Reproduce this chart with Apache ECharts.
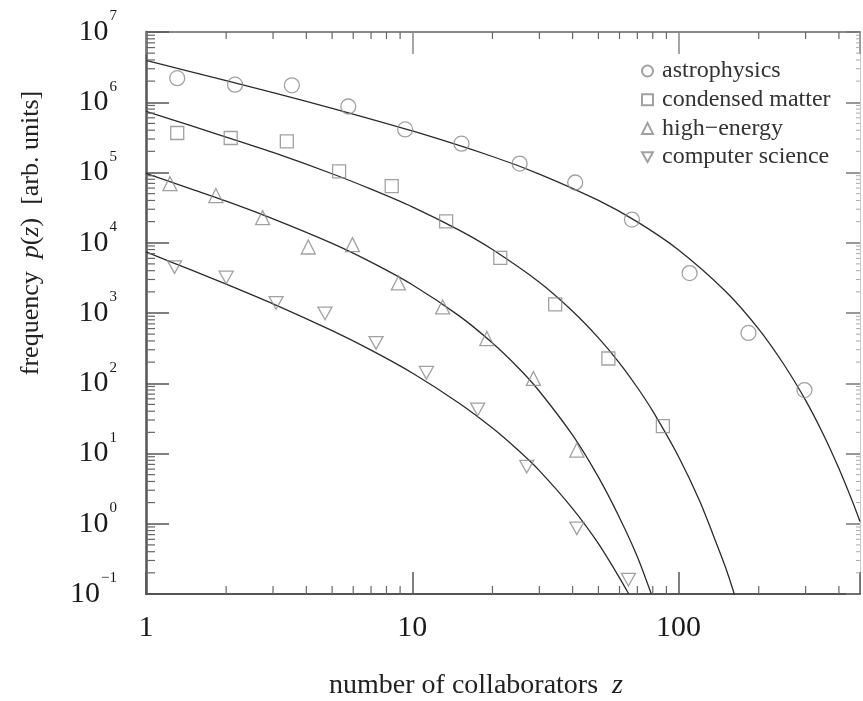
<!DOCTYPE html>
<html><head><meta charset="utf-8">
<script src="https://cdn.jsdelivr.net/npm/echarts@6/dist/echarts.min.js"></script>
<style>html,body{margin:0;padding:0;background:#fff}#c{width:863px;height:701px}</style>
</head><body><div id="c"></div>
<script>
// ---- data ----
const seriesNames = ['astrophysics', 'condensed matter', 'high\u2212energy', 'computer science'];

const astroPoints = [[1.31,2.2e6],[2.16,1.78e6],[3.53,1.74e6],[5.75,8.7e5],[9.4,4.1e5],[15.3,2.57e5],[25.3,1.34e5],[40.9,7.2e4],[66.8,2.14e4],[110,3.7e3],[183,521],[297,80]];
const condPoints  = [[1.31,3.65e5],[2.08,3.1e5],[3.38,2.78e5],[5.31,1.04e5],[8.37,6.4e4],[13.4,2.02e4],[21.4,6.1e3],[34.4,1.33e3],[54.5,225],[87.3,24.5]];
const hePoints    = [[1.23,6.95e4],[1.83,4.7e4],[2.74,2.28e4],[4.07,8.7e3],[5.96,9.4e3],[8.87,2.68e3],[13.0,1.22e3],[19.05,433],[28.5,117],[41.5,11.2]];
const csPoints    = [[1.28,4.5e3],[2.0,3.2e3],[3.08,1.39e3],[4.7,985],[7.31,376],[11.3,141],[17.6,42.4],[26.9,6.5],[41.5,0.86],[64.8,0.16]];

// fitted curves at sample abscissas
const astroCurve = [[1,3.94e6],[2,2.03e6],[3,1.37e6],[5,8.2e5],[10,3.9e5],[20,1.69e5],[30,9.5e4],[50,4.0e4],[70,1.98e4],[100,7.9e3],[150,2.04e3],[200,590],[250,179],[300,57],[350,18.5],[400,6.1],[450,2.06],[480,1.08]];
const condCurve  = [[1,7.4e5],[2,3.2e5],[3,1.93e5],[5,9.6e4],[7,5.8e4],[10,3.25e4],[15,1.51e4],[20,8.0e3],[30,2.74e3],[40,1.06e3],[50,443],[60,194],[70,87],[80,40],[100,9.0],[120,2.1],[140,0.48],[150,0.24],[160,0.115],[166,0.07]];
const heCurve    = [[1,9.7e4],[1.5,5.7e4],[2,3.9e4],[3,2.19e4],[5,9.8e3],[7,5.3e3],[10,2.53e3],[15,910],[20,374],[25,166],[30,77],[40,18.2],[50,4.6],[60,1.22],[70,0.34],[79,0.1]];
const csCurve    = [[1,7.4e3],[1.5,4.0e3],[2,2.58e3],[3,1.35e3],[5,560],[7,296],[10,140],[15,52],[20,23],[25,11.1],[30,5.7],[40,1.64],[50,0.52],[60,0.17],[65,0.1]];

const xTickLabels = [1, 10, 100];
const yTickExponents = [-1, 0, 1, 2, 3, 4, 5, 6, 7];
const xMinorTicks = [2,3,4,5,6,7,8,9,20,30,40,50,60,70,80,90,200,300,400];
const yMinorTicks = [0.2,0.3,0.4,0.5,0.6,0.7,0.8,0.9, 2,3,4,5,6,7,8,9, 20,30,40,50,60,70,80,90,
  200,300,400,500,600,700,800,900, 2e3,3e3,4e3,5e3,6e3,7e3,8e3,9e3, 2e4,3e4,4e4,5e4,6e4,7e4,8e4,9e4,
  2e5,3e5,4e5,5e5,6e5,7e5,8e5,9e5, 2e6,3e6,4e6,5e6,6e6,7e6,8e6,9e6];

// ---- chart ----
const SERIF = 'Liberation Serif';
const markerStyle = {color: 'rgba(0,0,0,0)', borderColor: '#8a8a8a', borderWidth: 1.3};
const downTri = 'path://M0,0L10,0L5,9Z';
const symbols = ['circle', 'rect', 'triangle', downTri];
const sizes = [15, 13, 14, 14];
const pointSets = [astroPoints, condPoints, hePoints, csPoints];
const curveSets = [astroCurve, condCurve, heCurve, csCurve];

const series = [];
curveSets.forEach((c) => {
  series.push({type: 'line', data: c, showSymbol: false, smooth: 0.25, z: 2, clip: true,
    lineStyle: {color: '#2b2b2b', width: 1.3}, silent: true});
});
pointSets.forEach((p, i) => {
  series.push({type: 'scatter', name: seriesNames[i], data: p, symbol: symbols[i],
    symbolSize: sizes[i], symbolKeepAspect: true, itemStyle: markerStyle, z: 3});
});
series.push({type: 'custom', silent: true, z: 4, data: xMinorTicks.map(v => [v, 1]),
  renderItem: (params, api) => {
    const cs = params.coordSys;
    const px = api.coord([api.value(0), 1])[0];
    const b = cs.y + cs.height, t = cs.y;
    const st = {stroke: '#666', lineWidth: 1.2};
    return {type: 'group', children: [
      {type: 'line', shape: {x1: px, y1: b, x2: px, y2: b - 8}, style: st},
      {type: 'line', shape: {x1: px, y1: t, x2: px, y2: t + 7}, style: st}
    ]};
  }});
series.push({type: 'custom', silent: true, z: 4, data: yMinorTicks.map(v => [1, v]),
  renderItem: (params, api) => {
    const cs = params.coordSys;
    const py = api.coord([1, api.value(1)])[1];
    const l = cs.x, r = cs.x + cs.width;
    return {type: 'group', children: [
      {type: 'line', shape: {x1: l, y1: py, x2: l + 9, y2: py}, style: {stroke: '#666', lineWidth: 1.2}},
      {type: 'line', shape: {x1: r, y1: py, x2: r - 4, y2: py}, style: {stroke: '#aaa', lineWidth: 1}}
    ]};
  }});

const isPow10 = v => Math.abs(Math.log10(v) - Math.round(Math.log10(v))) < 1e-6;

const option = {
  animation: false,
  backgroundColor: '#fff',
  grid: {left: 146, right: 3, top: 32, bottom: 107, containLabel: false},
  legend: {
    data: seriesNames, orient: 'vertical', left: 641, top: 59, padding: 0,
    itemGap: 4.7, itemWidth: 11, itemHeight: 11, selectedMode: false,
    textStyle: {fontFamily: SERIF, fontSize: 24, color: '#333', lineHeight: 22, padding: [0, 0, 0, 4]}
  },
  xAxis: [
    {type: 'log', logBase: 10, min: 1, max: 480, position: 'bottom',
      axisLine: {lineStyle: {color: '#555', width: 2}},
      axisTick: {inside: true, length: 22, lineStyle: {color: '#555', width: 1.5}},
      axisLabel: {margin: 19, fontFamily: SERIF, fontSize: 30, color: '#1a1a1a',
        formatter: v => (isPow10(v) && xTickLabels.includes(Math.round(v))) ? String(Math.round(v)) : ''},
      splitLine: {show: false}, minorTick: {show: false}},
    {type: 'log', logBase: 10, min: 1, max: 480, position: 'top',
      axisLine: {lineStyle: {color: '#8a8a8a', width: 2}},
      axisTick: {inside: true, length: 22, lineStyle: {color: '#888', width: 1.5}},
      axisLabel: {show: false}, splitLine: {show: false}}
  ],
  yAxis: [
    {type: 'log', logBase: 10, min: 0.1, max: 1e7, position: 'left',
      axisLine: {lineStyle: {color: '#555', width: 2.5}},
      axisTick: {inside: true, length: 23, lineStyle: {color: '#555', width: 1.5}},
      axisLabel: {margin: 29,
        formatter: v => {
          const e = Math.round(Math.log10(v));
          if (!isPow10(v) || !yTickExponents.includes(e)) return '';
          return '{b|10}{s|' + (e < 0 ? '\u2212' + (-e) : e) + '}';
        },
        rich: {
          b: {fontFamily: SERIF, fontSize: 30, color: '#1a1a1a', padding: [8, 0, 8, 0]},
          s: {fontFamily: SERIF, fontSize: 15, color: '#1a1a1a', verticalAlign: 'top', padding: [0, 0, 0, 1]}
        }},
      splitLine: {show: false}},
    {type: 'log', logBase: 10, min: 0.1, max: 1e7, position: 'right',
      axisLine: {lineStyle: {color: '#c8c8c8', width: 1}},
      axisTick: {inside: true, length: 14, lineStyle: {color: '#777', width: 1.5}},
      axisLabel: {show: false}, splitLine: {show: false}}
  ],
  graphic: [
    {type: 'text', x: 31, y: 233, rotation: Math.PI / 2, silent: true,
      style: {text: 'frequency  {i|p}({i|z})  [arb. units]', fontFamily: SERIF, fontSize: 26,
        fill: '#222', align: 'center', verticalAlign: 'middle',
        rich: {i: {fontFamily: SERIF, fontSize: 26, fontStyle: 'italic', fill: '#222'}}}},
    {type: 'text', x: 476, y: 686, silent: true,
      style: {text: 'number of collaborators  {i|z}', fontFamily: SERIF, fontSize: 28,
        fill: '#222', align: 'center', verticalAlign: 'middle',
        rich: {i: {fontFamily: SERIF, fontSize: 28, fontStyle: 'italic', fill: '#222'}}}}
  ],
  series: series
};
const chart = echarts.init(document.getElementById('c'), null, {renderer: 'canvas'});
chart.setOption(option);
</script>
</body></html>
